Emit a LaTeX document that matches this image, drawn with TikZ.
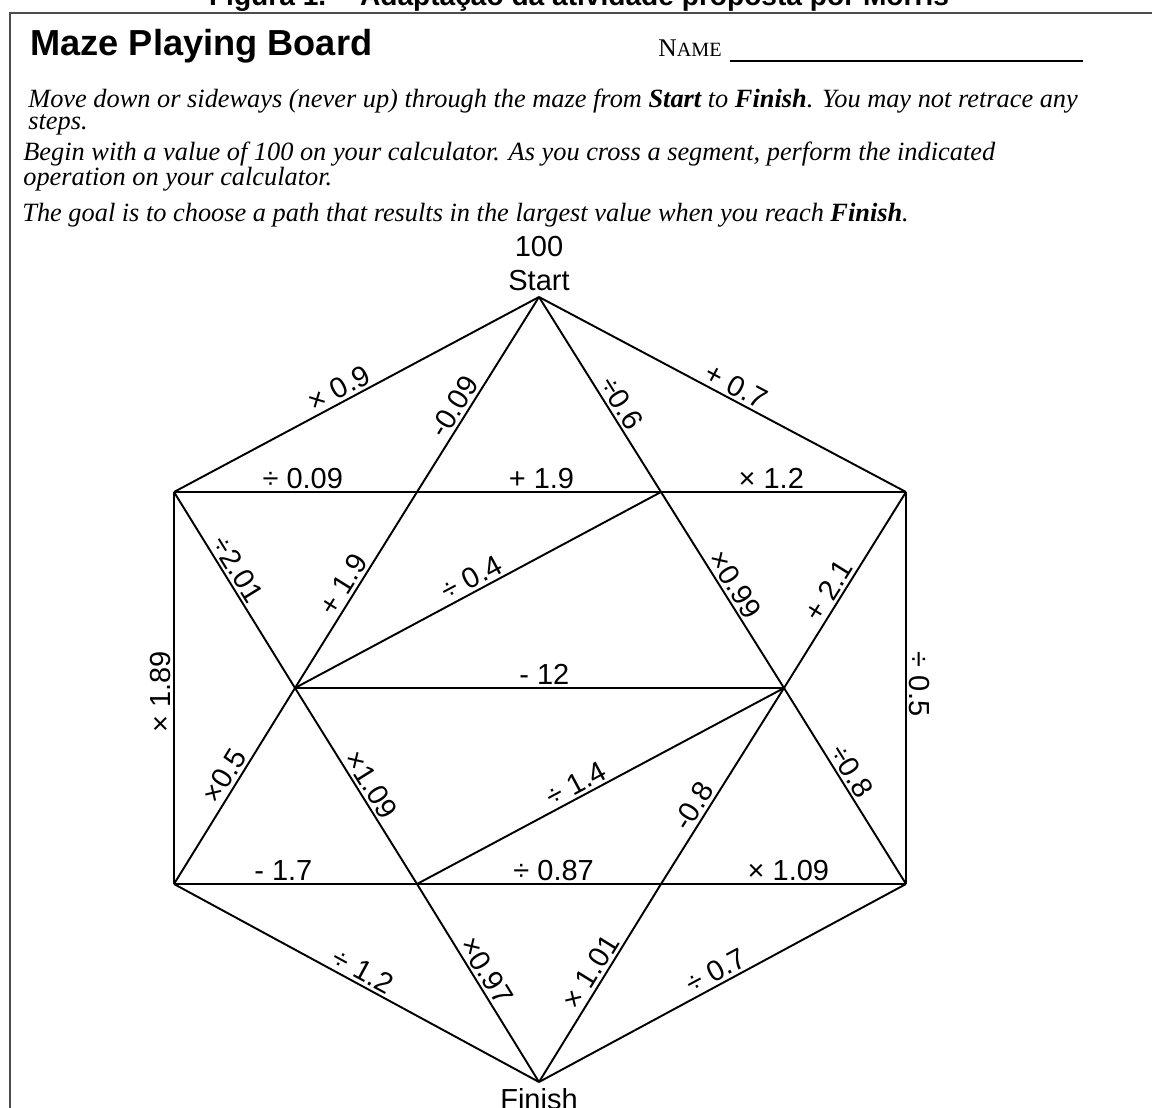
\documentclass[tikz,border=0pt]{standalone}
\usepackage{fontspec}
\setmainfont{Liberation Serif}
\setsansfont{Liberation Sans}
\begin{document}
\begin{tikzpicture}[x=0.02cm,y=-0.02cm,
	lbl/.style={font=\sffamily\fontsize{16.5}{18}\selectfont,inner sep=1.5pt},
	seg/.style={line width=1.1pt},
	txt/.style={anchor=base west,inner sep=0pt,font=\itshape\fontsize{15}{16}\selectfont}]
		\clip (0,0) rectangle (1152,1108);
		\fill[white] (0,0) rectangle (1152,1108);
		% page frame and caption
		\draw[line width=1.2pt,black!70] (10,1120) -- (10,13) -- (1160,13);
		\node[anchor=base,inner sep=0pt,font=\sffamily\bfseries\fontsize{16}{18}\selectfont] (caption) at (579,6) {Figura 1. – Adaptação da atividade proposta por Morris};
		% header
		\node[anchor=base west,inner sep=0pt,font=\sffamily\bfseries\fontsize{20.6}{24}\selectfont] (title) at (30,56) {Maze Playing Board};
		\node[anchor=base west,inner sep=0pt] (name) at (658,57) {\fontsize{14.5}{16}\selectfont N\fontsize{11.5}{14}\selectfont AME};
		\draw[line width=0.6pt] (730,61) -- (1083,61);
		\node[txt] (line1) at (28,108) {Move down or sideways (never up) through the maze from \textbf{Start} to \textbf{Finish}. You may not retrace any};
		\node[txt] (line2) at (28,130) {steps.};
		\node[txt] (line3) at (23,161) {Begin with a value of 100 on your calculator. As you cross a segment, perform the indicated};
		\node[txt] (line4) at (23,186) {operation on your calculator.};
		\node[txt] (line5) at (22,221) {The goal is to choose a path that results in the largest value when you reach \textbf{Finish}.};
		% maze corners
		\coordinate (S) at (539,297);
		\coordinate (TL) at (174,492);
		\coordinate (TR) at (906,492);
		\coordinate (ML) at (295,688);
		\coordinate (MR) at (784,688);
		\coordinate (BL) at (174,884);
		\coordinate (BR) at (906,884);
		\coordinate (F) at (539,1082);
		\coordinate (A) at (417,492);
		\coordinate (B) at (661,492);
		\coordinate (C) at (417,884);
		\coordinate (D) at (661,884);
		\node[lbl,above=2pt] (start) at (S) {Start};
		\node[lbl,above=4pt] (hundred) at (start.north) {100};
		\node[lbl,below=2pt] (finish) at (F) {Finish};
		% top part
		\draw[seg] (TL) -- node[lbl,sloped,above,pos=.47] {× 0.9} (S);
		\draw[seg] (A) -- node[lbl,sloped,above,pos=.4] {-0.09} (S);
		\draw[seg] (S) -- node[lbl,sloped,above,pos=.58] {÷0.6} (B);
		\draw[seg] (S) -- node[lbl,sloped,above,pos=.52] {+ 0.7} (TR);
		\draw[seg] (TL) -- node[lbl,above,pos=.53] {÷ 0.09} (A) -- node[lbl,above,pos=.51] {+ 1.9} (B) -- node[lbl,above,pos=.45] {× 1.2} (TR);
		% middle part
		\draw[seg] (TL) -- node[lbl,sloped,above,pos=.43] {÷2.01} (ML);
		\draw[seg] (ML) -- node[lbl,sloped,above,pos=.49] {+ 1.9} (A);
		\draw[seg] (ML) -- node[lbl,sloped,above,pos=.5] {÷ 0.4} (B);
		\draw[seg] (B) -- node[lbl,sloped,above,pos=.51] {×0.99} (MR);
		\draw[seg] (MR) -- node[lbl,sloped,above,pos=.46] {+ 2.1} (TR);
		\draw[seg] (ML) -- node[lbl,above,pos=.51] {- 12} (MR);
		\draw[seg] (BL) -- node[lbl,sloped,above,pos=.49] {× 1.89} (TL);
		\draw[seg] (TR) -- node[lbl,sloped,above,pos=.49] {÷ 0.5} (BR);
		\draw[seg] (BL) -- node[lbl,sloped,above,pos=.515] {×0.5} (ML);
		\draw[seg] (ML) -- node[lbl,sloped,above,pos=.53] {×1.09} (C);
		\draw[seg] (C) -- node[lbl,sloped,above,pos=.45] {÷ 1.4} (MR);
		\draw[seg] (D) -- node[lbl,sloped,above,pos=.36] {-0.8} (MR);
		\draw[seg] (MR) -- node[lbl,sloped,above,pos=.46] {÷0.8} (BR);
		% bottom part
		\draw[seg] (BL) -- node[lbl,above,pos=.45] {- 1.7} (C) -- node[lbl,above,pos=.56] {÷ 0.87} (D) -- node[lbl,above,pos=.52] {× 1.09} (BR);
		\draw[seg] (BL) -- node[lbl,sloped,above,pos=.5] {÷ 1.2} (F);
		\draw[seg] (C) -- node[lbl,sloped,above,pos=.475] {×0.97} (F);
		\draw[seg] (F) -- node[lbl,sloped,above,pos=.52] {× 1.01} (D);
		\draw[seg] (F) -- node[lbl,sloped,above,pos=.5] {÷ 0.7} (BR);
	\end{tikzpicture}
\end{document}
